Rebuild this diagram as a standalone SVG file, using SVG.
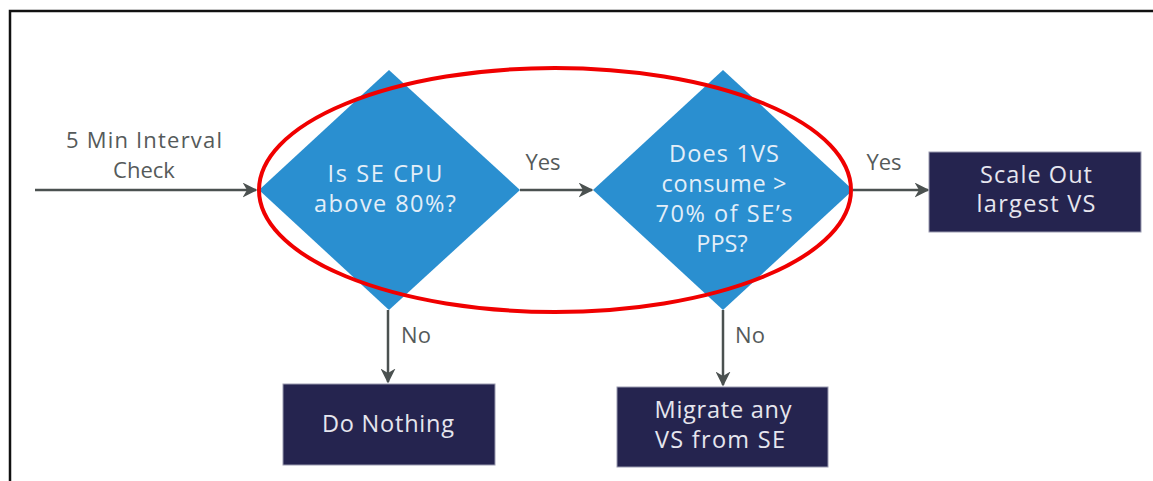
<svg xmlns="http://www.w3.org/2000/svg" width="1153" height="481" viewBox="0 0 1153 481">
  <style>
    .lbl { font-family: "Open Sans", "Liberation Sans", sans-serif; font-size: 22px; fill: #555a5a; text-anchor: middle; }
    .dtxt { font-family: "Open Sans", "Liberation Sans", sans-serif; font-size: 23.5px; fill: #e3eef8; text-anchor: middle; }
    .btxt { font-family: "Open Sans", "Liberation Sans", sans-serif; font-size: 23.5px; fill: #e6e6ee; text-anchor: middle; }
    .diamond { fill: #2a8fd0; }
    .box { fill: #25244f; stroke: #9a9ab0; stroke-width: 1; }
    .conn { stroke: #4b5150; stroke-width: 2.5; fill: none; marker-end: url(#arrow); }
  </style>
  <defs>
    <marker id="arrow" viewBox="0 0 10 10" refX="9" refY="5" markerWidth="6" markerHeight="6" orient="auto" markerUnits="strokeWidth">
      <path d="M0,0 L10,5 L0,10 L3,5 z" fill="#4b5150"/>
    </marker>
  </defs>

  <rect width="1153" height="481" fill="#ffffff"/>
  <!-- frame -->
  <path d="M10,481 L10,11 L1153,11" fill="none" stroke="#111" stroke-width="2.5"/>

  <!-- connectors -->
  <g id="connectors">
    <line class="conn" x1="35" y1="190" x2="256" y2="190"/>
    <line class="conn" x1="520" y1="190" x2="592" y2="190"/>
    <line class="conn" x1="853" y1="190" x2="928" y2="190"/>
    <line class="conn" x1="388" y1="310" x2="388" y2="382"/>
    <line class="conn" x1="723" y1="310" x2="723" y2="385"/>
    <text class="lbl" x="144" y="148" textLength="156">5 Min Interval</text>
    <text class="lbl" x="144" y="178">Check</text>
    <text class="lbl" x="543" y="170">Yes</text>
    <text class="lbl" x="884" y="170">Yes</text>
    <text class="lbl" x="416" y="343">No</text>
    <text class="lbl" x="750" y="343">No</text>
  </g>

  <g id="cpu-check">
    <polygon class="diamond" points="389,70 520,190 389,310 259,190"/>
    <text class="dtxt" x="385" y="182" textLength="115">Is SE CPU</text>
    <text class="dtxt" x="385" y="212" textLength="142">above 80%?</text>
  </g>

  <g id="pps-check">
    <polygon class="diamond" points="723,70 853,190 723,310 593,190"/>
    <text class="dtxt" x="724" y="162" textLength="110">Does 1VS</text>
    <text class="dtxt" x="724" y="192" textLength="125">consume &gt;</text>
    <text class="dtxt" x="724" y="222" textLength="137">70% of SE’s</text>
    <text class="dtxt" x="722" y="252">PPS?</text>
  </g>

  <g id="scale-out">
    <rect class="box" x="929" y="152" width="212" height="80"/>
    <text class="btxt" x="1036" y="183" textLength="112">Scale Out</text>
    <text class="btxt" x="1036" y="212" textLength="119">largest VS</text>
  </g>

  <g id="do-nothing">
    <rect class="box" x="283" y="384" width="212" height="81"/>
    <text class="btxt" x="388" y="432" textLength="132">Do Nothing</text>
  </g>

  <g id="migrate">
    <rect class="box" x="617" y="387" width="211" height="80"/>
    <text class="btxt" x="723" y="418" textLength="137">Migrate any</text>
    <text class="btxt" x="720" y="448" textLength="130">VS from SE</text>
  </g>

  <!-- highlight ring around the two decisions -->
  <ellipse id="highlight" cx="555" cy="190" rx="296" ry="122" fill="none" stroke="#f00000" stroke-width="4"/>
</svg>
